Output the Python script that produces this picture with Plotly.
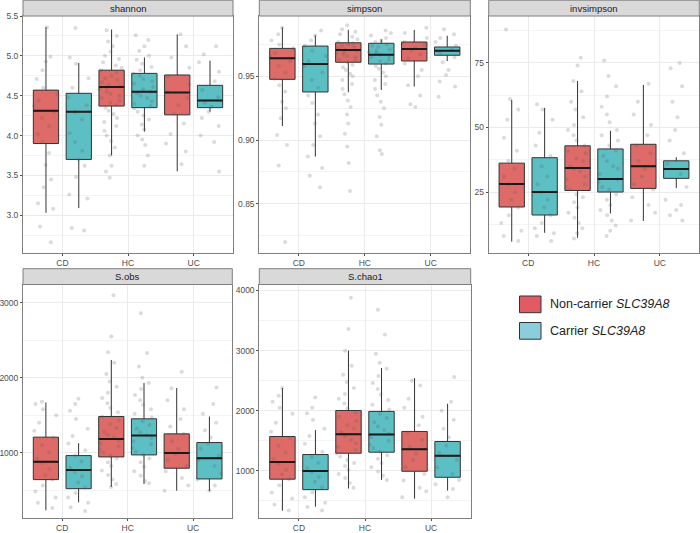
import plotly.graph_objects as go

# categories and the two genotype groups
groups = ["CD", "HC", "UC"]
metrics = ["shannon", "simpson", "invsimpson", "S.obs", "S.chao1"]

# box statistics: [CD, HC, UC]
stats = {
    "shannon": {
        "non": dict(lo=[3.03, 3.75, 3.55], q1=[3.90, 4.37, 4.26], med=[4.31, 4.61, 4.54], q3=[4.57, 4.82, 4.76], hi=[5.36, 5.33, 5.27]),
        "car": dict(lo=[3.09, 4.05, 4.30], q1=[3.70, 4.35, 4.35], med=[4.30, 4.55, 4.44], q3=[4.53, 4.78, 4.63], hi=[4.91, 4.98, 4.94]),
    },
    "simpson": {
        "non": dict(lo=[0.911, 0.9375, 0.942], q1=[0.9476, 0.961, 0.962], med=[0.9641, 0.9706, 0.9714], q3=[0.9719, 0.9763, 0.9769], hi=[0.9884, 0.9865, 0.9863]),
        "car": dict(lo=[0.887, 0.9393, 0.962], q1=[0.9377, 0.9596, 0.9665], med=[0.9596, 0.9669, 0.9701], q3=[0.9737, 0.9759, 0.973], hi=[0.9821, 0.979, 0.9818]),
    },
    "invsimpson": {
        "non": dict(lo=[5.8, 7.3, 13.8], q1=[19.2, 25.6, 26.4], med=[28.1, 34.3, 35.0], q3=[36.2, 42.9, 43.5], hi=[60.7, 68.0, 66.5]),
        "car": dict(lo=[9.2, 16.7, 26.5], q1=[16.1, 25.0, 30.3], med=[25.0, 30.1, 33.9], q3=[38.3, 41.7, 37.1], hi=[57.6, 48.7, 38.5]),
    },
    "S.obs": {
        "non": dict(lo=[229, 541, 491], q1=[639, 942, 791], med=[876, 1183, 996], q3=[1206, 1482, 1250], hi=[1669, 2237, 1862]),
        "car": dict(lo=[336, 581, 487], q1=[518, 969, 648], med=[768, 1228, 925], q3=[960, 1451, 1134], hi=[1126, 1929, 1482]),
    },
    "S.chao1": {
        "non": dict(lo=[338, 706, 539], q1=[862, 1294, 994], med=[1150, 1611, 1361], q3=[1572, 2005, 1656], hi=[2378, 3000, 2544]),
        "car": dict(lo=[405, 850, 672], q1=[688, 1311, 894], med=[1000, 1606, 1250], q3=[1272, 1989, 1489], hi=[1678, 2711, 2117]),
    },
}

# jittered sample points (approximate), per metric / group / category
shannon_non = [
    [5.36, 4.99, 4.93, 4.82, 4.71, 4.60, 4.52, 4.44, 4.37, 4.30, 4.22, 4.12, 4.02, 3.92, 3.78, 3.63, 3.45, 3.35, 3.15, 3.08, 2.86, 2.66],
    [5.32, 5.25, 5.18, 5.12, 5.05, 5.00, 4.96, 4.92, 4.88, 4.85, 4.82, 4.79, 4.75, 4.72, 4.70, 4.67, 4.64, 4.62, 4.60, 4.58, 4.55,
     4.52, 4.50, 4.47, 4.44, 4.41, 4.38, 4.35, 4.31, 4.27, 4.22, 4.17, 4.12, 4.06, 4.00, 3.93, 3.85, 3.75, 3.62, 3.55, 3.47],
    [5.27, 5.12, 4.98, 4.85, 4.74, 4.64, 4.55, 4.47, 4.38, 4.27, 4.15, 4.02, 3.90, 3.80, 3.64],
]
shannon_car = [
    [5.35, 4.98, 4.90, 4.72, 4.60, 4.48, 4.38, 4.30, 4.20, 4.03, 3.92, 3.81, 3.70, 3.62, 3.48, 3.26, 3.21, 2.84, 2.81],
    [5.26, 5.20, 5.12, 5.06, 5.00, 4.95, 4.90, 4.86, 4.82, 4.78, 4.75, 4.71, 4.68, 4.65, 4.61, 4.58, 4.55, 4.53, 4.50, 4.47,
     4.43, 4.40, 4.37, 4.34, 4.30, 4.25, 4.20, 4.14, 4.08, 4.00, 3.95, 3.88, 3.75, 3.62],
    [5.12, 5.02, 4.92, 4.80, 4.68, 4.57, 4.48, 4.41, 4.36, 4.30, 4.22, 4.12, 4.00, 3.92, 3.55],
]
simpson_non = [
    [0.988, 0.983, 0.978, 0.975, 0.972, 0.968, 0.965, 0.962, 0.958, 0.953, 0.948, 0.943, 0.938, 0.930, 0.925, 0.917, 0.904, 0.896, 0.880, 0.820],
    [0.990, 0.987, 0.985, 0.983, 0.981, 0.979, 0.977, 0.976, 0.975, 0.974, 0.973, 0.972, 0.971, 0.970, 0.969, 0.968, 0.967, 0.966, 0.965, 0.963,
     0.962, 0.961, 0.959, 0.957, 0.955, 0.952, 0.950, 0.947, 0.944, 0.940, 0.936, 0.931, 0.926, 0.920, 0.913, 0.905, 0.895, 0.882, 0.860],
    [0.988, 0.984, 0.980, 0.977, 0.975, 0.972, 0.970, 0.967, 0.964, 0.960, 0.955, 0.950, 0.943, 0.935, 0.928, 0.926],
]
simpson_car = [
    [0.986, 0.982, 0.978, 0.974, 0.970, 0.966, 0.962, 0.958, 0.953, 0.947, 0.941, 0.935, 0.929, 0.920, 0.913, 0.903, 0.896, 0.887, 0.878, 0.872, 0.863],
    [0.986, 0.984, 0.982, 0.980, 0.978, 0.977, 0.975, 0.974, 0.973, 0.971, 0.970, 0.969, 0.968, 0.967, 0.966, 0.965, 0.963, 0.962, 0.960, 0.958,
     0.956, 0.953, 0.950, 0.947, 0.944, 0.940, 0.935, 0.930, 0.925, 0.918, 0.912, 0.903, 0.892, 0.889],
    [0.987, 0.983, 0.980, 0.977, 0.974, 0.971, 0.968, 0.965, 0.961, 0.955, 0.951, 0.946, 0.942, 0.934],
]
invsimpson_non = [
    [88, 61, 57, 53, 46, 41, 37, 34, 31, 28, 25, 22, 19, 16, 13, 10, 8, 6],
    [77, 74, 68, 64, 60, 57, 54, 51, 49, 47, 45, 43, 41, 40, 38, 37, 35, 34, 33, 31, 30, 28, 27, 26, 24, 23, 21, 19, 17, 15, 13, 11, 9, 7],
    [67, 60, 55, 51, 47, 43, 40, 37, 34, 31, 28, 26, 23, 20, 17, 14],
]
invsimpson_car = [
    [59, 57, 53, 48, 43, 39, 35, 31, 28, 25, 22, 19, 16, 13, 11, 9, 8, 6],
    [76, 70, 66, 62, 58, 55, 52, 49, 47, 45, 43, 41, 39, 37, 35, 34, 32, 30, 29, 27, 26, 24, 22, 20, 18, 16, 14, 12, 10, 8],
    [75, 73, 66, 60, 54, 49, 45, 40, 36, 32, 27, 22, 20, 18, 16, 14],
]
sobs_non = [
    [1680, 1650, 1580, 1500, 1400, 1290, 1200, 1100, 1000, 920, 860, 780, 700, 640, 560, 480, 400, 330, 260],
    [3100, 2550, 2340, 2200, 2050, 1950, 1880, 1800, 1730, 1660, 1600, 1540, 1480, 1430, 1380, 1330, 1280, 1240, 1200, 1160,
     1120, 1080, 1040, 1000, 960, 920, 870, 820, 760, 700, 640, 580, 540],
    [2080, 1860, 1700, 1580, 1450, 1350, 1250, 1150, 1050, 980, 900, 820, 750, 660, 560, 490],
]
sobs_car = [
    [1720, 1650, 1560, 1450, 1320, 1220, 1120, 1030, 960, 880, 800, 740, 680, 600, 530, 460, 400, 330, 270, 220],
    [2860, 2330, 2150, 2000, 1930, 1850, 1770, 1700, 1640, 1580, 1520, 1470, 1420, 1370, 1320, 1270, 1230, 1190, 1150, 1110,
     1060, 1010, 970, 920, 870, 810, 750, 690, 620, 590],
    [1870, 1650, 1520, 1400, 1300, 1200, 1120, 1050, 960, 900, 820, 720, 640, 560, 490],
]
chao1_non = [
    [2380, 2250, 2150, 2050, 1950, 1800, 1650, 1550, 1420, 1300, 1200, 1120, 1020, 940, 860, 760, 640, 540, 440, 340],
    [3880, 3360, 3000, 2750, 2600, 2480, 2380, 2280, 2200, 2120, 2040, 1970, 1900, 1830, 1760, 1700, 1640, 1580, 1520, 1460,
     1400, 1350, 1290, 1240, 1180, 1130, 1080, 1020, 950, 880, 800, 720],
    [2500, 2420, 2200, 2050, 1900, 1760, 1640, 1520, 1400, 1290, 1180, 1060, 950, 840, 720, 660, 560],
]
chao1_car = [
    [2220, 2050, 1960, 1850, 1700, 1580, 1450, 1320, 1230, 1130, 1050, 980, 900, 820, 730, 640, 560, 470, 400, 340],
    [3680, 3270, 2950, 2800, 2700, 2580, 2460, 2360, 2270, 2180, 2100, 2020, 1950, 1880, 1810, 1740, 1680, 1620, 1560, 1500,
     1440, 1380, 1320, 1260, 1200, 1130, 1060, 990, 920, 850],
    [2560, 2150, 2000, 1850, 1700, 1560, 1420, 1300, 1180, 1060, 950, 850, 780, 700, 560],
]
points = {
    "shannon": {"non": shannon_non, "car": shannon_car},
    "simpson": {"non": simpson_non, "car": simpson_car},
    "invsimpson": {"non": invsimpson_non, "car": invsimpson_car},
    "S.obs": {"non": sobs_non, "car": sobs_car},
    "S.chao1": {"non": chao1_non, "car": chao1_car},
}

# axis settings per facet
y_ranges = {"shannon": [2.53, 5.5], "simpson": [0.8116, 0.9973], "invsimpson": [1.5, 93.2],
            "S.obs": [133, 3245], "S.chao1": [225, 4100]}
y_dtick = {"shannon": 0.5, "simpson": 0.05, "invsimpson": 25, "S.obs": 1000, "S.chao1": 1000}
y_fmt = {"shannon": ".1f", "simpson": ".2f", "invsimpson": "d", "S.obs": "d", "S.chao1": "d"}

W, H = 700, 533
# panel boxes in pixels: (left, right, top, bottom)
panels = {
    "shannon": (23, 233, 16, 252.7),
    "simpson": (259.3, 470.3, 16, 252.7),
    "invsimpson": (488.7, 699.3, 16, 252.7),
    "S.obs": (23, 232.3, 284.5, 517.5),
    "S.chao1": (259.3, 470.7, 284.5, 517.5),
}
strip_h = 15.8


def px_x(v):
    return v / W


def px_y(v):
    return 1 - v / H


fill = {"non": "#DE6B67", "car": "#5CBFC4"}
names = {"non": "Non-carrier SLC39A8", "car": "Carrier SLC39A8"}
FONT = "Liberation Sans, Arial, sans-serif"

fig = go.Figure()
shapes = []
annotations = []

for i, m in enumerate(metrics, start=1):
    xa = "x" if i == 1 else f"x{i}"
    ya = "y" if i == 1 else f"y{i}"
    for g in ["non", "car"]:
        s = stats[m][g]
        fig.add_trace(go.Box(
            x=groups, y=points[m][g],
            q1=s["q1"], median=s["med"], q3=s["q3"],
            lowerfence=s["lo"], upperfence=s["hi"],
            name=names[g], offsetgroup=g, showlegend=False,
            fillcolor=fill[g], line=dict(color="#333333", width=1),
            whiskerwidth=0, boxpoints="all", jitter=1, pointpos=0,
            marker=dict(color="rgba(90,90,90,0.22)", size=4, line=dict(width=0)),
            xaxis=xa, yaxis=ya, hoverinfo="skip",
        ))
        # thicker median bar drawn over the box
        fig.add_trace(go.Box(
            x=groups, q1=s["med"], median=s["med"], q3=s["med"],
            lowerfence=s["med"], upperfence=s["med"],
            offsetgroup=g, showlegend=False, boxpoints=False,
            fillcolor="rgba(0,0,0,0)", line=dict(color="#1a1a1a", width=2),
            whiskerwidth=0, xaxis=xa, yaxis=ya, hoverinfo="skip",
        ))

    l, r, t, b = panels[m]
    axis_common = dict(showline=True, mirror=True, linecolor="#7f7f7f", linewidth=1,
                       ticks="outside", ticklen=2, tickcolor="#4d4d4d", automargin=False,
                       tickfont=dict(family=FONT, size=8.5, color="#4d4d4d"),
                       showgrid=True, gridcolor="#ebebeb", gridwidth=1, zeroline=False)
    fig.layout[("xaxis" if i == 1 else f"xaxis{i}")] = dict(
        domain=[px_x(l), px_x(r)], anchor=ya, type="category",
        categoryorder="array", categoryarray=groups, range=[-0.6, 2.6], **axis_common)
    fig.layout[("yaxis" if i == 1 else f"yaxis{i}")] = dict(
        domain=[px_y(b), px_y(t)], anchor=xa, range=y_ranges[m],
        dtick=y_dtick[m], tickformat=y_fmt[m],
        minor=dict(dtick=y_dtick[m] / 2, showgrid=True, gridcolor="#f4f4f4", ticks=""),
        **axis_common)

    # facet strip
    shapes.append(dict(type="rect", xref="paper", yref="paper",
                       x0=px_x(l), x1=px_x(r), y0=px_y(t), y1=px_y(t - strip_h),
                       fillcolor="#d9d9d9", line=dict(color="#7f7f7f", width=1)))
    annotations.append(dict(xref="paper", yref="paper", x=px_x((l + r) / 2),
                            y=px_y(t - strip_h / 2), text=m, showarrow=False,
                            font=dict(family=FONT, size=9.5, color="#1a1a1a"),
                            xanchor="center", yanchor="middle"))

# legend drawn in the empty bottom-right cell
leg_fill = {"non": "#E25A64", "car": "#8CCDDC"}
for g, top in [("non", 296), ("car", 322.5)]:
    shapes.append(dict(type="rect", xref="paper", yref="paper",
                       x0=px_x(519.5), x1=px_x(541), y0=px_y(top + 16.7), y1=px_y(top),
                       fillcolor=leg_fill[g], line=dict(color="#333333", width=1)))
    label = "Non-carrier <i>SLC39A8</i>" if g == "non" else "Carrier <i>SLC39A8</i>"
    annotations.append(dict(xref="paper", yref="paper", x=px_x(548), y=px_y(top + 8.3),
                            text=label, showarrow=False, xanchor="left", yanchor="middle",
                            font=dict(family=FONT, size=12.5, color="#222222")))

fig.update_layout(
    width=W, height=H, margin=dict(l=0, r=0, t=0, b=0),
    paper_bgcolor="white", plot_bgcolor="white",
    boxmode="group", boxgap=0, boxgroupgap=0.23,
    shapes=shapes, annotations=annotations, showlegend=False,
)

# drop the page's default 8px body margin so the figure sits at the window corner
fig.write_html("out.html", config={"displayModeBar": False},
               post_script="document.body.style.margin = '0px';")
